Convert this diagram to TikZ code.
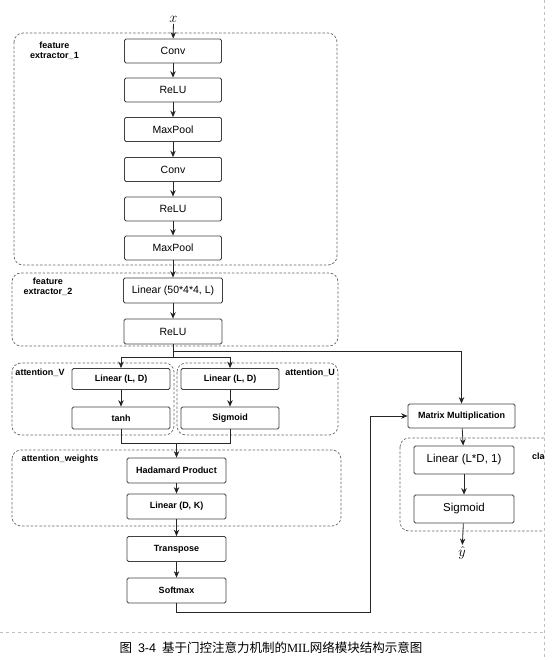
\documentclass[tikz,border=0pt]{standalone}
\usepackage{fontspec}
\setmainfont{Liberation Sans}
\newfontfamily\cjk{Noto Sans CJK SC}
\newfontfamily\timesfont{Liberation Serif}
\usetikzlibrary{positioning,arrows.meta}

\begin{document}
\begin{tikzpicture}[x=1pt,y=-1pt,
	blk/.style={draw=black!75,line width=0.8pt,rounded corners=1.5pt,minimum width=97pt,minimum height=24pt,inner sep=0pt,font=\fontsize{10.5}{12}\selectfont},
	bblk/.style={blk,minimum width=99pt,minimum height=25pt,font=\fontsize{9}{11}\selectfont\bfseries},
	grp/.style={draw=black!60,line width=0.7pt,dash pattern=on 2.5pt off 1.8pt,rounded corners=9pt},
	lbl/.style={font=\fontsize{9}{10}\selectfont\bfseries,align=center,inner sep=0pt},
	arr/.style={-{Stealth[length=6.5pt,width=5.5pt]}},
	con/.style={draw=black!85,line width=0.8pt}]
	
	\useasboundingbox (0,0) rectangle (552,660);
	
	% page edges
	\draw[black!25,dashed,line width=0.6pt] (544,0) -- (544,660);
	\draw[black!25,dashed,line width=0.6pt] (0,632) -- (544,632);
	
	% groups
	\draw[grp] (14,33) rectangle (337,265);
	\draw[grp] (12,273) rectangle (338,346);
	\draw[grp] (12,363) rectangle (174,435);
	\draw[grp] (177,363) rectangle (338,435);
	\draw[grp] (12,450) rectangle (341,526);
	\begin{scope}
		\clip (0,0) rectangle (543.5,660);
		\draw[grp] (400,438) rectangle (600,531);
		\node[lbl,anchor=west] (labC) at (532,456) {cla};
	\end{scope}
	
	\node[lbl] (lab1) at (54.5,50.5) {feature\\extractor\_1};
	\node[lbl] (lab2) at (48,287) {feature\\extractor\_2};
	\node[lbl] (labV) at (40,372.5) {attention\_V};
	\node[lbl] (labU) at (310,372.5) {attention\_U};
	\node[lbl] (labW) at (60,459.5) {attention\_weights};
	
	% feature extractor 1
	\node[inner sep=1pt,font=\fontsize{14}{16}\selectfont] (x) at (173.5,19.5) {$x$};
	\node[blk] (conv1) at (173,51) {Conv};
	\node[blk] (relu1) at (173,90) {ReLU};
	\node[blk] (pool1) at (173,129.5) {MaxPool};
	\node[blk] (conv2) at (173,169.5) {Conv};
	\node[blk] (relu2) at (173,209) {ReLU};
	\node[blk] (pool2) at (173,248) {MaxPool};
	
	% feature extractor 2
	\node[blk,minimum width=99pt,minimum height=25pt] (lin1) at (173,290.5) {Linear (50*4*4, L)};
	\node[blk,minimum width=98pt,minimum height=25pt] (relu3) at (173,331.5) {ReLU};
	
	% attention
	\node[bblk,minimum width=98pt,minimum height=21pt] (linV) at (121,379) {Linear (L, D)};
	\node[bblk,minimum width=98pt,minimum height=22pt] (tanhV) at (121,418) {tanh};
	\node[bblk,minimum width=98pt,minimum height=21pt] (linU) at (230,379) {Linear (L, D)};
	\node[bblk,minimum width=98pt,minimum height=22pt] (sigU) at (230,418) {Sigmoid};
	
	\node[bblk] (had) at (176.5,470.5) {Hadamard Product};
	\node[bblk] (lindk) at (176.5,506.5) {Linear (D, K)};
	\node[bblk] (trans) at (176.5,549) {Transpose};
	\node[bblk] (soft) at (176.5,590.5) {Softmax};
	
	% classifier
	\node[bblk,minimum width=107pt,minimum height=24pt] (matmul) at (461.5,416) {Matrix Multiplication};
	\node[blk,minimum width=100pt,minimum height=28pt,font=\fontsize{11.5}{13}\selectfont] (linc) at (464,460) {Linear (L*D, 1)};
	\node[blk,minimum width=100pt,minimum height=28pt,font=\fontsize{11.5}{13}\selectfont] (sigc) at (464,509) {Sigmoid};
	\node[inner sep=1pt,anchor=north,font=\fontsize{15}{17}\selectfont] (yhat) at (462,545) {$\hat{y}$};
	
	\path[arr,con]
	(x) edge (conv1)
	(conv1) edge (relu1)
	(relu1) edge (pool1)
	(pool1) edge (conv2)
	(conv2) edge (relu2)
	(relu2) edge (pool2)
	(pool2) edge (lin1)
	(lin1) edge (relu3)
	(linV) edge (tanhV)
	(linU) edge (sigU)
	(had) edge (lindk)
	(lindk) edge (trans)
	(trans) edge (soft)
	(matmul) edge (linc)
	(linc) edge (sigc)
	(sigc) edge (yhat);
	
	% split, branch and merge
	\coordinate (sp) at (relu3.south |- 0,357);
	\coordinate (br) at (relu3.south |- 0,351);
	\coordinate (mg) at (had.north |- 0,443);
	\coordinate (rt) at (370,612);
	\draw[con] (relu3.south) -- (sp);
	\draw[con] (sp -| linV) -- (sp -| linU);
	\draw[con,arr] (sp -| linV) -- (linV);
	\draw[con,arr] (sp -| linU) -- (linU);
	\draw[con,arr] (br) -| (matmul);
	\draw[con] (tanhV.south) |- (sigU.south |- mg) -- (sigU.south);
	\draw[con,arr] (mg) -- (had);
	\draw[con,arr] (soft.south) |- (rt) |- (matmul.west);
	
	% caption
	\node[font=\fontsize{12.5}{14}\selectfont] (cap) at (271,648) {{\cjk 图}\hspace{6pt}3-4\hspace{6pt}{\cjk 基于门控注意力机制的}{\timesfont MIL}{\cjk 网络模块结构示意图}};
	
\end{tikzpicture}
\end{document}
